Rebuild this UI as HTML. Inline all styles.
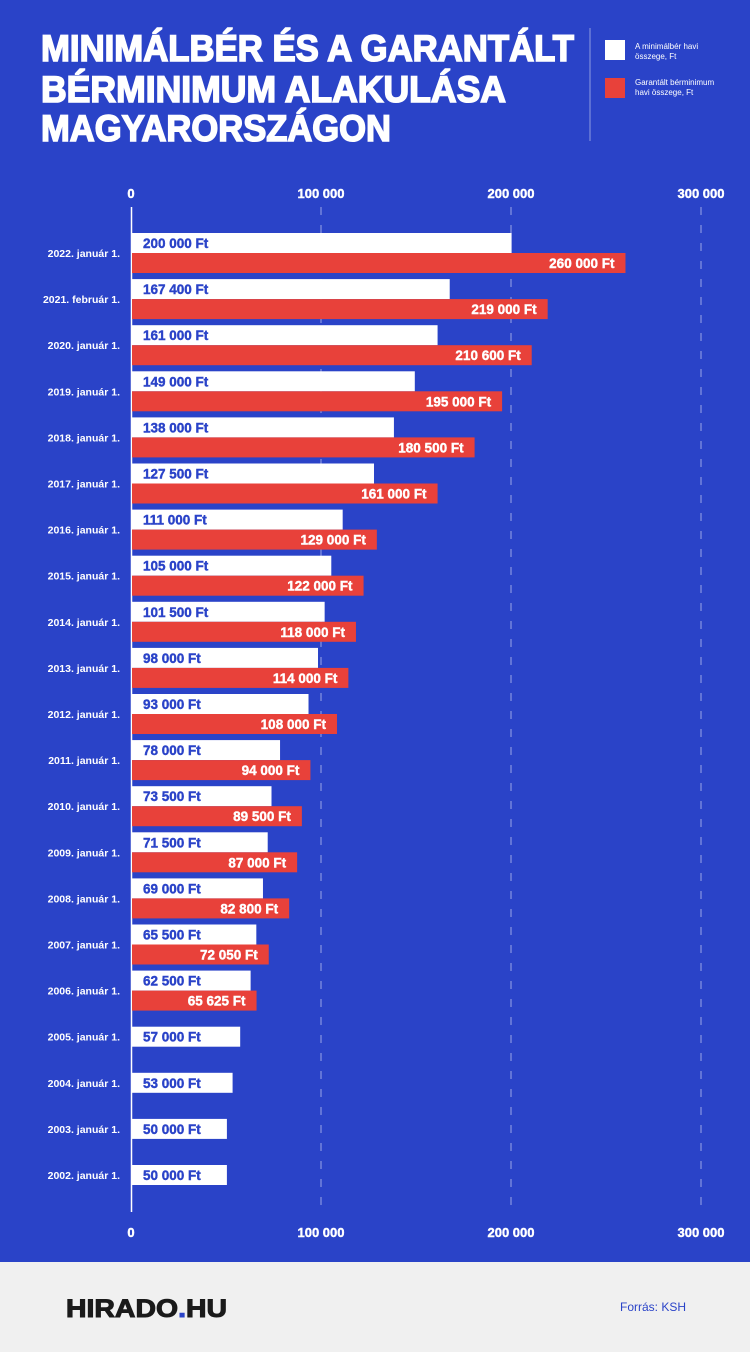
<!DOCTYPE html>
<html><head><meta charset="utf-8"><style>
html,body{margin:0;padding:0;width:750px;height:1352px;overflow:hidden;background:#2a43c8}
svg{display:block;font-family:"Liberation Sans",sans-serif}
</style></head><body>
<svg id="s" width="750" height="1352" viewBox="0 0 750 1352" xmlns="http://www.w3.org/2000/svg">
<rect width="750" height="1262" fill="#2a43c8"/>
<rect y="1262" width="750" height="90" fill="#f0f0f0"/>
<g fill="#fff" stroke="#fff" stroke-width="1.6" font-weight="bold" font-size="37">
<text x="41" y="61" textLength="533" lengthAdjust="spacingAndGlyphs">MINIMÁLBÉR ÉS A GARANTÁLT</text>
<text x="41" y="102" textLength="465" lengthAdjust="spacingAndGlyphs">BÉRMINIMUM ALAKULÁSA</text>
<text x="41" y="141" textLength="350" lengthAdjust="spacingAndGlyphs">MAGYARORSZÁGON</text>
</g>
<line x1="590" y1="28" x2="590" y2="141" stroke="#8d9be0" stroke-width="1"/>
<rect x="605" y="40" width="20" height="20" fill="#fff"/>
<rect x="605" y="78" width="20" height="20" fill="#e8413a"/>
<g fill="#fff" font-size="8">
<text x="635" y="49">A minimálbér havi</text><text x="635" y="59">összege, Ft</text>
<text x="635" y="85">Garantált bérminimum</text><text x="635" y="95">havi összege, Ft</text>
</g>
<g stroke="#9aa6e6" stroke-width="1" stroke-dasharray="8 10">
<line x1="321" y1="207" x2="321" y2="1212"/><line x1="511" y1="207" x2="511" y2="1212"/><line x1="701" y1="207" x2="701" y2="1212"/>
</g>
<line x1="131.5" y1="207" x2="131.5" y2="1212" stroke="#fff" stroke-width="1.5"/>
<g fill="#fff" stroke="#fff" stroke-width="0.4" font-weight="bold" font-size="13" text-anchor="middle">
<text x="131" y="198">0</text><text x="321" y="198">100 000</text><text x="511" y="198">200 000</text><text x="701" y="198">300 000</text>
<text x="131" y="1237">0</text><text x="321" y="1237">100 000</text><text x="511" y="1237">200 000</text><text x="701" y="1237">300 000</text>
</g>
<g id="bars"></g>
<text x="66" y="1317" font-size="25" font-weight="bold" fill="#1a1a1a" stroke="#1a1a1a" stroke-width="1" textLength="161" lengthAdjust="spacingAndGlyphs">HIRADO<tspan fill="#2a43c8" stroke="#2a43c8">.</tspan>HU</text>
<text x="620" y="1311" font-size="12" fill="#2a43c8">Forrás: KSH</text>
</svg>
<script>
var d=[["2022. január 1.",200000,"200 000",260000,"260 000"],["2021. február 1.",167400,"167 400",219000,"219 000"],["2020. január 1.",161000,"161 000",210600,"210 600"],["2019. január 1.",149000,"149 000",195000,"195 000"],["2018. január 1.",138000,"138 000",180500,"180 500"],["2017. január 1.",127500,"127 500",161000,"161 000"],["2016. január 1.",111000,"111 000",129000,"129 000"],["2015. január 1.",105000,"105 000",122000,"122 000"],["2014. január 1.",101500,"101 500",118000,"118 000"],["2013. január 1.",98000,"98 000",114000,"114 000"],["2012. január 1.",93000,"93 000",108000,"108 000"],["2011. január 1.",78000,"78 000",94000,"94 000"],["2010. január 1.",73500,"73 500",89500,"89 500"],["2009. január 1.",71500,"71 500",87000,"87 000"],["2008. január 1.",69000,"69 000",82800,"82 800"],["2007. január 1.",65500,"65 500",72050,"72 050"],["2006. január 1.",62500,"62 500",65625,"65 625"],["2005. január 1.",57000,"57 000"],["2004. január 1.",53000,"53 000"],["2003. január 1.",50000,"50 000"],["2002. január 1.",50000,"50 000"]];
var h="",k=1.898/1000;
d.forEach(function(r,i){var c=253+46.1*i;
h+='<text x="120" y="'+(c+4)+'" fill="#fff" font-size="10.5" font-weight="bold" text-anchor="end">'+r[0]+'</text>';
var wy=r[3]?c-20:c-10;
h+='<rect x="132" y="'+wy+'" width="'+(r[1]*k)+'" height="20" fill="#fff"/>';
h+='<text x="143" y="'+(wy+15)+'" fill="#2a43c8" stroke="#2a43c8" stroke-width="0.4" font-size="13.5" font-weight="bold">'+r[2]+' Ft</text>';
if(r[3]){h+='<rect x="132" y="'+c+'" width="'+(r[3]*k)+'" height="20" fill="#e8413a"/>';
h+='<text x="'+(131+r[3]*k-10)+'" y="'+(c+15)+'" fill="#fff" stroke="#fff" stroke-width="0.4" font-size="13.5" font-weight="bold" text-anchor="end">'+r[4]+' Ft</text>';}
});
document.getElementById("bars").innerHTML=h;
</script>
</body></html>
